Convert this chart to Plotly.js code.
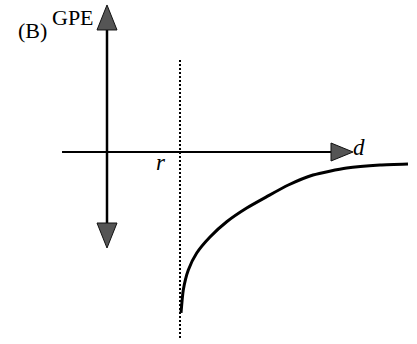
<!DOCTYPE html>
<html><head><meta charset="utf-8">
<script src="https://cdn.plot.ly/plotly-3.0.1.min.js"></script>
<style>html,body{margin:0;padding:0;background:#fff;}#chart{width:417px;height:344px;}</style>
</head><body><div id="chart"></div>
<script>
// distance d in units of r, GPE in arbitrary units
const curveD   = [1.014, 1.045, 1.114, 1.229, 1.411, 1.640, 1.914, 2.188, 2.484, 2.822, 3.284, 3.740, 4.123];
const curveGPE = [-2.205, -1.89, -1.616, -1.384, -1.164, -0.955, -0.767, -0.612, -0.452, -0.315, -0.219, -0.178, -0.164];
const rValue = 1.0;
const rLineGPE = [1.26, -2.575];           // dotted line extent
const dAxisExtent = [-0.616, 3.37];        // horizontal axis (arrow tip at end)
const gpeAxisExtent = [-1.315, 2.014];     // vertical axis (arrow tips at both ends)
const labels = {panel: "(B)", yLabel: "GPE", xLabel: "d", rLabel: "r"};

const serif = "Liberation Serif, Times New Roman, serif";

const traces = [
  {x: [dAxisExtent[0], dAxisExtent[1] - 0.25], y: [0, 0], mode: "lines", line: {color: "#000", width: 2}, hoverinfo: "skip"},
  {x: [0, 0], y: [gpeAxisExtent[0] + 0.3, gpeAxisExtent[1] - 0.3], mode: "lines", line: {color: "#000", width: 2.5}, hoverinfo: "skip"},
  {x: [rValue, rValue], y: rLineGPE, mode: "lines", line: {color: "#000", width: 2, dash: "2px,2px"}, hoverinfo: "skip"},
  {x: curveD, y: curveGPE, mode: "lines", line: {color: "#000", width: 3, shape: "spline", smoothing: 0.6}, hoverinfo: "skip"}
];

function head(xa, ya, path) {
  return {type: "path", xsizemode: "pixel", ysizemode: "pixel", xanchor: xa, yanchor: ya,
          path: path, fillcolor: "#555555", line: {color: "#111", width: 1}};
}
const shapes = [
  head(0, gpeAxisExtent[1], "M 0 0 L -10 -25 L 10 -25 Z"),
  head(0, gpeAxisExtent[0], "M 0 0 L -10 25 L 10 25 Z"),
  head(dAxisExtent[1], 0, "M 0 0 L -22 9 L -22 -9 Z")
];

const annotations = [
  {x: -1.027, y: 1.67, xref: "x", yref: "y", text: labels.panel, showarrow: false, font: {family: serif, size: 22, color: "#000"}},
  {x: -0.466, y: 1.84, xref: "x", yref: "y", text: labels.yLabel, showarrow: false, font: {family: serif, size: 22, color: "#000"}},
  {x: 3.45, y: 0.06, xref: "x", yref: "y", text: "<i>" + labels.xLabel + "</i>", showarrow: false, font: {family: serif, size: 23, color: "#000"}},
  {x: 0.74, y: -0.15, xref: "x", yref: "y", text: "<i>" + labels.rLabel + "</i>", showarrow: false, font: {family: serif, size: 23, color: "#000"}}
];

const layout = {
  width: 417, height: 344, margin: {l: 0, r: 0, t: 0, b: 0},
  paper_bgcolor: "#fff", plot_bgcolor: "#fff", showlegend: false,
  xaxis: {range: [-107/73, 310/73], visible: false, fixedrange: true},
  yaxis: {range: [-192/73, 152/73], visible: false, fixedrange: true},
  shapes: shapes, annotations: annotations
};
Plotly.newPlot("chart", traces, layout, {staticPlot: true, displayModeBar: false});
</script></body></html>
